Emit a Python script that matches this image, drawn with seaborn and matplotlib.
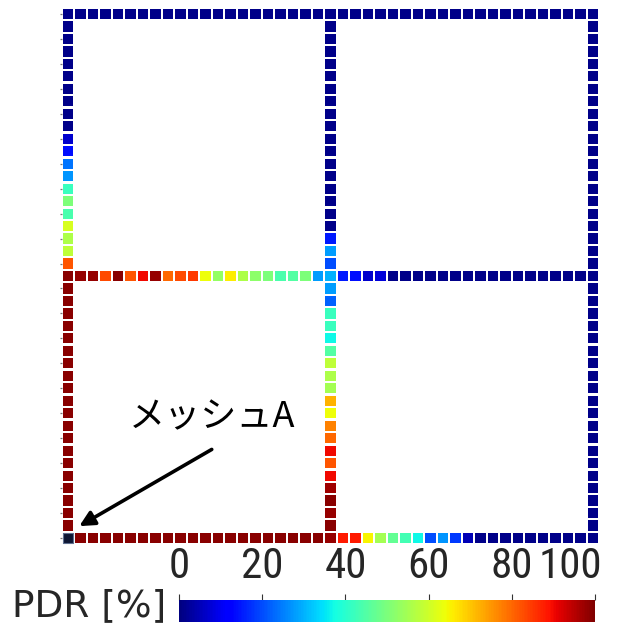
import numpy as np
import pandas as pd
import matplotlib
matplotlib.use("Agg")
import matplotlib.pyplot as plt
import seaborn as sns
from matplotlib import font_manager
from matplotlib.colors import Normalize
from matplotlib.cm import ScalarMappable
from matplotlib.transforms import ScaledTranslation

# ---- data: PDR [%] of the meshes along each grid line (43 meshes per line) ----
# horizontal lines (values for column 0..42)
top_row = [1, 1, 1, 1, 1, 1, 1, 1, 1, 1, 1, 1, 1, 1, 1, 1, 1, 1, 1, 1, 1, 1,
           1, 1, 1, 1, 1, 1, 1, 1, 1, 1, 1, 1, 1, 1, 1, 1, 1, 1, 1, 1, 1]
mid_row = [99, 98, 98, 83, 99, 82, 90, 98, 80, 83, 85, 64, 53, 66, 56, 52, 50, 44, 45, 50, 28, 30,
           15, 14, 7, 8, 1, 1, 1, 1, 1, 1, 1, 1, 1, 1, 1, 1, 1, 1, 1, 1, 1]
bottom_row = [0, 99, 99, 99, 99, 99, 99, 99, 99, 99, 99, 99, 99, 99, 99, 99, 99, 99, 99, 99, 99, 98,
              88, 88, 65, 55, 47, 43, 37, 20, 27, 18, 5, 1, 1, 1, 1, 1, 1, 1, 1, 1, 1]
# vertical lines (values for row 0..42, top to bottom)
left_col = [1, 1, 1, 1, 1, 1, 1, 1, 1, 1, 7, 14, 24, 27, 42, 50, 44, 61, 56, 58, 82, 99,
            99, 99, 99, 99, 99, 99, 99, 99, 99, 99, 99, 99, 99, 99, 99, 99, 99, 99, 99, 99, 0]
mid_col = [1, 1, 1, 1, 1, 1, 1, 1, 1, 1, 1, 1, 1, 1, 1, 1, 1, 1, 15, 28, 20, 30,
           28, 22, 42, 42, 37, 45, 58, 56, 55, 72, 64, 77, 80, 90, 82, 90, 97, 99, 98, 99, 98]
right_col = [1, 1, 1, 1, 1, 1, 1, 1, 1, 1, 1, 1, 1, 1, 1, 1, 1, 1, 1, 1, 1, 1,
             1, 1, 1, 1, 1, 1, 1, 1, 1, 1, 1, 1, 1, 1, 1, 1, 1, 1, 1, 1, 1]
line_index = [0, 21, 42]          # grid index of the three lines in each direction
mesh_a = (0, 42)                  # (column, row) of mesh A
mesh_a_label = "メッシュA"
cbar_ticks = [0, 20, 40, 60, 80, 100]
cbar_label = "PDR [%]"

n = len(top_row)
cells = []
for r, vals in zip(line_index, [top_row, mid_row, bottom_row]):
    for c, v in enumerate(vals):
        cells.append((c, r, v))
for c, vals in zip(line_index, [left_col, mid_col, right_col]):
    for r, v in enumerate(vals):
        cells.append((c, r, v))
df = pd.DataFrame(cells, columns=["col", "row", "pdr"])

jet = matplotlib.colormaps["jet"]

# pick a narrow font for the colorbar numbers if one is installed
available = {f.name for f in font_manager.fontManager.ttflist}
num_family, num_size = "DejaVu Sans", 24
for fam, size in [("Liberation Sans Narrow", 31), ("Roboto Condensed", 31),
                  ("Open Sans Condensed", 30), ("Liberation Sans", 26), ("Roboto", 26)]:
    if fam in available:
        num_family, num_size = fam, size
        break

# ---- figure ----
sns.set_style("white")
plt.rcParams["font.family"] = ["Noto Sans CJK JP", "DejaVu Sans"]
fig = plt.figure(figsize=(6.31, 6.26), dpi=100)
W, H = 631, 626
ax = fig.add_axes([61.75 / W, (H - 544.25) / H, 537.5 / W, 536.5 / H])

sns.scatterplot(data=df, x="col", y="row", hue="pdr", palette=jet, hue_norm=(0, 100),
                marker="s", s=54, linewidth=0, legend=False, ax=ax)
ax.scatter([mesh_a[0]], [mesh_a[1]], marker="s", s=54, color="#0d1633",
           edgecolors="#5f7090", linewidths=0.8, zorder=5)

ax.set_xlim(-0.5, n - 0.5)
ax.set_ylim(n - 0.5, -0.5)
ax.set_xlabel("")
ax.set_ylabel("")
ax.set_xticks([])
ax.set_yticks(np.arange(0, n, 2))
ax.set_yticklabels([])
ax.tick_params(axis="y", left=True, length=1.5, width=0.9, color="#777777", direction="out", pad=0)
for sp in ax.spines.values():
    sp.set_visible(False)

# annotation
ax.text(11.5, 32.3, mesh_a_label, ha="center", va="center", fontsize=26, fontweight="normal",
        family=["Noto Sans CJK JP", "DejaVu Sans"], color="black")
ax.annotate("", xy=(0.9, 41.05), xytext=(11.5, 34.9),
            arrowprops=dict(arrowstyle="-|>,head_length=0.9,head_width=0.45", color="black",
                            lw=2.6, shrinkA=0, shrinkB=0))

# ---- colorbar ----
cax = fig.add_axes([179 / W, (H - 622) / H, 416 / W, 22 / H])
sm = ScalarMappable(norm=Normalize(0, 100), cmap=jet)
cb = fig.colorbar(sm, cax=cax, orientation="horizontal", ticks=cbar_ticks)
cb.outline.set_visible(False)
cax.xaxis.set_ticks_position("top")
cax.xaxis.set_label_position("top")
cax.tick_params(axis="x", length=4, width=0.8, color="#333333", direction="out", pad=5)
cax.set_xticklabels([str(t) for t in cbar_ticks])
for lbl in cax.get_xticklabels():
    lbl.set_fontsize(num_size)
    lbl.set_fontweight("normal")
    lbl.set_family([num_family, "DejaVu Sans"])
last = cax.get_xticklabels()[-1]
last.set_horizontalalignment("right")
last.set_transform(last.get_transform() + ScaledTranslation(7 / 100, 0, fig.dpi_scale_trans))
fig.text(12 / W, (H - 606) / H, cbar_label, ha="left", va="center", fontsize=27,
         family=["DejaVu Sans"])

fig.savefig("out.png", dpi=100)
